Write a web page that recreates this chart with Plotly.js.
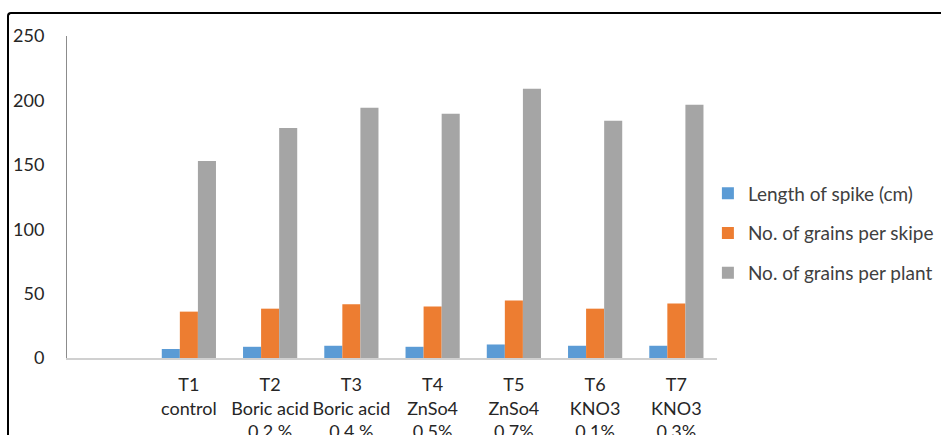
<!DOCTYPE html>
<html>
<head>
<meta charset="utf-8">
<script src="https://cdn.plot.ly/plotly-3.0.1.min.js"></script>
<style>
  html, body { margin: 0; padding: 0; background: #fff; overflow: hidden; }
  #wrap { position: relative; width: 941px; height: 435px; }
  #chart { position: absolute; left: 0; top: 0; width: 941px; height: 435px; }
  #frame { position: absolute; left: 7px; top: 12px; width: 1000px; height: 1000px;
           border-left: 2px solid #000; border-top: 2px solid #000;
           border-top-left-radius: 4px; pointer-events: none; }
</style>
</head>
<body>
<div id="wrap">
  <div id="chart"></div>
  <div id="frame"></div>
</div>
<script>
// Category slots (first slot is empty in the original chart)
const treatments = ['', 'T1', 'T2', 'T3', 'T4', 'T5', 'T6', 'T7'];
const agents     = ['', 'control', 'Boric acid', 'Boric acid', 'ZnSo4', 'ZnSo4', 'KNO3', 'KNO3'];
const doses      = ['', '', '0.2 %', '0.4 %', '0.5%', '0.7%', '0.1%', '0.3%'];

// Series values for T1..T7
const seriesNames = ['Length of spike (cm)', 'No. of grains per skipe', 'No. of grains per plant'];
const spikeLength    = [7.0, 8.7, 9.5, 8.7, 10.5, 9.5, 9.5];
const grainsPerSpike = [36.0, 38.3, 41.7, 40.0, 44.6, 38.3, 42.4];
const grainsPerPlant = [153.0, 178.6, 194.3, 189.7, 209.0, 184.2, 196.6];

const colors = ['#5B9BD5', '#ED7D31', '#A5A5A5'];

const slotIdx = treatments.map((_, i) => i);
const tickText = treatments.map((t, i) => [t, agents[i], doses[i]].filter(s => s !== '').join('<br>'));
const xPos = spikeLength.map((_, i) => i + 1);

const allSeries = [spikeLength, grainsPerSpike, grainsPerPlant];
const traces = allSeries.map((vals, k) => ({
  type: 'bar',
  x: xPos,
  y: vals,
  name: seriesNames[k],
  legendgroup: 'g' + k,
  marker: { color: colors[k] },
  hoverinfo: 'skip'
}));

const layout = {
  width: 941, height: 435,
  margin: { l: 67, r: 224, t: 36, b: 77, pad: 0, autoexpand: false },
  paper_bgcolor: '#fff', plot_bgcolor: '#fff',
  font: { family: 'Lato, "Open Sans", sans-serif', size: 18, color: '#404040' },
  barmode: 'group',
  bargap: 0.333,
  bargroupgap: 0,
  showlegend: true,
  legend: {
    x: 0.986, xanchor: 'left',
    y: 0.57, yanchor: 'top',
    traceorder: 'grouped',
    tracegroupgap: 12,
    font: { family: 'Lato, "Open Sans", sans-serif', size: 19, color: '#404040' },
    bgcolor: 'rgba(0,0,0,0)'
  },
  xaxis: {
    type: 'linear',
    range: [-0.5, 7.5],
    tickmode: 'array',
    tickvals: slotIdx,
    ticktext: tickText,
    tickangle: 0,
    automargin: false,
    showgrid: false,
    zeroline: false,
    showline: true,
    linecolor: '#D0D0D0',
    linewidth: 1.5,
    ticks: '',
    ticklabelstandoff: 10,
    tickfont: { family: 'Lato, "Open Sans", sans-serif', size: 18, color: '#262626' },
    fixedrange: true
  },
  yaxis: {
    range: [0, 250],
    tickmode: 'linear',
    tick0: 0, dtick: 50,
    automargin: false,
    showgrid: false,
    zeroline: false,
    showline: true,
    linecolor: '#8C8C8C',
    linewidth: 1,
    ticks: '',
    ticklabelstandoff: 18,
    tickfont: { family: 'Lato, "Open Sans", sans-serif', size: 18, color: '#262626' },
    fixedrange: true
  }
};

Plotly.newPlot('chart', traces, layout, { displayModeBar: false, staticPlot: true });
</script>
</body>
</html>
